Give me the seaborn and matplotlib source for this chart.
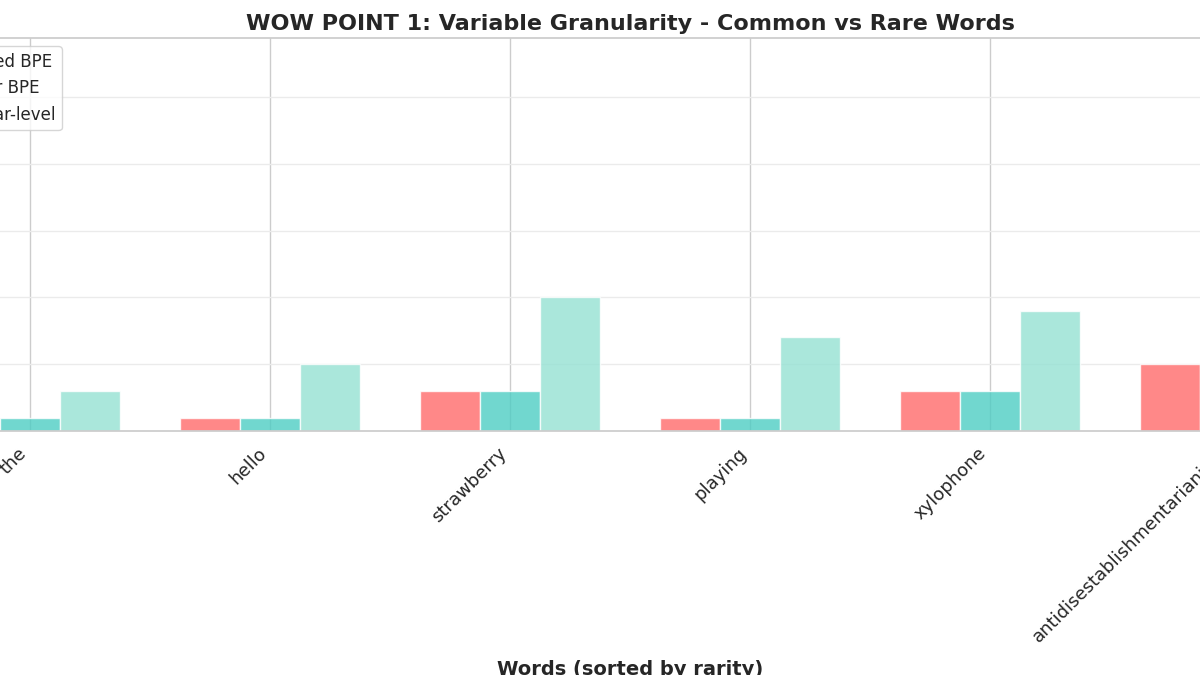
import matplotlib
matplotlib.use("Agg")
import matplotlib.pyplot as plt
import seaborn as sns
import pandas as pd

words = ["the", "hello", "strawberry", "playing", "xylophone", "antidisestablishmentarianism"]
series = ["Fixed BPE", "Our BPE", "Char-level"]
standard_bpe = [1, 1, 3, 1, 3, 5]
adaptive_bpe = [1, 1, 3, 1, 3, 5]
char_level = [3, 5, 10, 7, 9, 28]

df = pd.DataFrame({
    "word": words * 3,
    "method": sum([[s] * len(words) for s in series], []),
    "tokens": standard_bpe + adaptive_bpe + char_level,
})

sns.set_theme(style="whitegrid")
fig = plt.figure(figsize=(12, 6.75), dpi=100)
ax = fig.add_axes([-0.075, 0.3615, 1.2, 0.582])
sns.barplot(data=df, x="word", y="tokens", hue="method",
            palette=["#FF6B6B", "#4ECDC4", "#95E1D3"], alpha=0.8,
            edgecolor="white", linewidth=1, width=0.75, ax=ax, saturation=1)
ax.set_xlim(-0.5, 5.5)
ax.set_ylim(0, 29.4)
ax.set_yticks([0, 5, 10, 15, 20, 25])
ax.grid(axis="y", color="#ebebeb", linewidth=1)
ax.grid(axis="x", color="#cccccc", linewidth=1)
ax.set_axisbelow(True)
ax.set_title("WOW POINT 1: Variable Granularity - Common vs Rare Words",
             fontsize=16, fontweight="bold")
ax.set_xlabel("Words (sorted by rarity)", fontsize=14, fontweight="bold", labelpad=10)
ax.set_ylabel("Number of Tokens", fontsize=14, fontweight="bold")
plt.setp(ax.get_xticklabels(), rotation=45, ha="right", fontsize=13)
for s in ax.spines.values():
    s.set_color("#cccccc")
ax.legend(loc="upper left", fontsize=12)
fig.savefig("out.png", dpi=100)
